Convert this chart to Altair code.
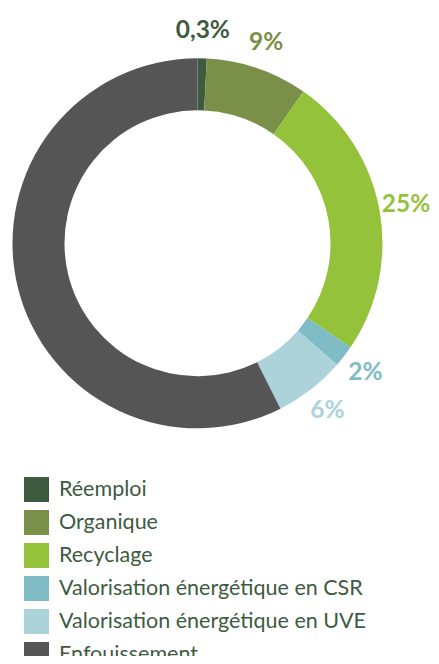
import altair as alt
import pandas as pd

categories = [
    "Réemploi",
    "Organique",
    "Recyclage",
    "Valorisation énergétique en CSR",
    "Valorisation énergétique en UVE",
    "Enfouissement",
]
values = [0.8, 8.9, 24.8, 1.9, 6.2, 57.4]
labels = ["0,3%", "9%", "25%", "2%", "6%", ""]
colors = ["#3e5b3f", "#7a8f48", "#94c23b", "#7fbcc6", "#acd2da", "#555555"]

df = pd.DataFrame({
    "cat": categories,
    "value": values,
    "label": labels,
    "order": list(range(len(categories))),
})

FONT = "Lato, DejaVu Sans Condensed, sans-serif"
color_scale = alt.Scale(domain=categories, range=colors)
cx, cy = 189.5, 235.3

base = alt.Chart(df).encode(
    theta=alt.Theta("value:Q", stack=True),
    order=alt.Order("order:Q"),
)

arcs = base.mark_arc(outerRadius=185, innerRadius=133).encode(
    x=alt.value(cx),
    y=alt.value(cy),
    color=alt.Color(
        "cat:N",
        scale=color_scale,
        sort=categories,
        legend=alt.Legend(
            title=None,
            orient="none",
            legendX=16,
            legendY=469,
            direction="vertical",
            symbolType="square",
            symbolSize=625,
            symbolStrokeWidth=0,
            symbolOpacity=1,
            labelFont=FONT,
            labelFontSize=21.5,
            labelColor="#3e5b3f",
            labelOffset=10,
            rowPadding=8,
            labelLimit=400,
            padding=0,
        ),
    ),
)

text = base.mark_text(
    radius=212, font=FONT, fontSize=24.5, fontWeight="bold"
).encode(
    x=alt.value(cx),
    y=alt.value(cy),
    text="label:N",
    color=alt.Color("cat:N", scale=color_scale, legend=None),
)

chart = (
    alt.layer(arcs, text)
    .properties(
        width=423,
        height=648,
        padding=0,
        autosize=alt.AutoSizeParams(type="none"),
    )
    .configure_view(stroke=None)
)

chart.save("out.html", embed_options={"renderer": "svg", "actions": False})
